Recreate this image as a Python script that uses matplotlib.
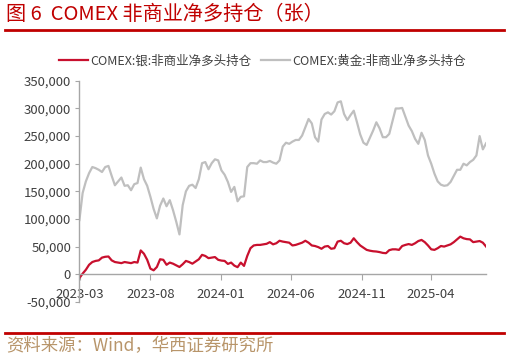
import matplotlib
matplotlib.use('Agg')
import matplotlib.pyplot as plt
import matplotlib.dates as mdates
import matplotlib.ticker as mticker
import numpy as np
import pandas as pd

plt.rcParams['font.family'] = ['Noto Sans CJK SC', 'DejaVu Sans']

# weekly COT data, 2023-02-28 .. 2025-07-29
dates = pd.date_range('2023-02-28', periods=127, freq='7D')

silver = [-7, 1, 8, 17, 22, 24, 25, 30, 31.5, 32,
          25, 22, 21, 20, 22, 21, 20, 22, 21, 43,
          37, 26, 10, 7, 13, 27, 26, 17, 21, 19,
          16, 13, 18, 24, 22, 19, 23, 27, 35, 33,
          29, 30, 31, 26, 24.6, 24, 18.6, 21, 15.5, 12.7,
          21, 15, 33, 47, 52, 53, 53, 54, 55, 58,
          54, 56, 60.5, 59, 58, 57, 52, 53, 55, 57,
          60.5, 57, 52, 51, 49, 46, 50, 51, 46, 47,
          59, 60.5, 56, 54.5, 57, 65, 58, 52, 48, 44,
          42.5, 41.5, 41, 40, 38.5, 38, 43.5, 45, 45, 44,
          51, 53, 54.5, 53, 56, 60, 62, 58, 52, 45,
          44, 47, 51, 50, 52, 54, 58, 63, 68, 65,
          63.5, 63, 58, 59, 60, 57, 50]

gold = [98, 147, 168, 183, 194, 192, 189, 185, 194, 196,
        178, 161, 168, 175, 160, 161, 152, 163, 165, 193,
        172, 160, 140, 118, 101, 124, 137, 123, 134, 116,
        95, 72, 125, 150, 160, 162, 156, 172, 201, 203,
        190, 201, 208, 206, 188, 180, 167, 149, 158, 132,
        140, 141, 194, 201, 201, 200, 206, 203, 203, 205,
        202, 200, 206, 231, 238, 236, 240, 243, 243, 251,
        266, 281, 273, 248, 240, 280, 290, 293, 289, 295,
        311, 313, 290, 279, 288, 296, 275, 253, 238, 234,
        247, 260, 275, 264, 248, 248, 254, 277, 300, 300,
        301, 285, 269, 259, 245, 236, 256, 243, 215, 200,
        182, 168, 162, 160, 161, 167, 178, 189, 189, 200,
        197, 203, 207, 215, 250, 226, 237]

silver = np.array(silver) * 1000
gold = np.array(gold) * 1000

tick_dates = pd.to_datetime(['2023-03-01', '2023-08-01', '2024-01-01',
                             '2024-06-01', '2024-11-01', '2025-04-01'])

fig = plt.figure(figsize=(5.09, 3.61), dpi=100)
ax = fig.add_axes([0.156, 0.164, 0.799, 0.612])

ax.plot(dates, silver, color='#C8102E', lw=1.6, label='COMEX:银:非商业净多头持仓')
ax.plot(dates, gold, color='#BFBFBF', lw=1.6, label='COMEX:黄金:非商业净多头持仓')

ax.set_xlim(dates[0], dates[-1])
ax.set_ylim(-50000, 350000)
ax.set_yticks(np.arange(-50000, 350001, 50000))
ax.yaxis.set_major_formatter(mticker.FuncFormatter(lambda v, p: f'{v:,.0f}'))
ax.set_xticks(tick_dates)
ax.xaxis.set_major_formatter(mdates.DateFormatter('%Y-%m'))

for s in ['top', 'right']:
    ax.spines[s].set_visible(False)
ax.spines['bottom'].set_position(('data', 0))
for s in ['left', 'bottom']:
    ax.spines[s].set_color('#A6A6A6')
    ax.spines[s].set_linewidth(1.0)
ax.tick_params(axis='both', colors='#A6A6A6', labelcolor='#404040', labelsize=9.5)
ax.tick_params(axis='y', length=3, pad=3)
ax.tick_params(axis='x', length=4, pad=6)

ax.legend(loc='lower left', bbox_to_anchor=(-0.05, 1.06), ncol=2, frameon=False,
          fontsize=9, handlelength=2.3, columnspacing=0.8, labelcolor='#404040',
          borderaxespad=0, borderpad=0, handletextpad=0.2)

# title, rules and source
fig.text(0.012, 0.96, '图 6  COMEX 非商业净多持仓（张）', color='#C00000',
         fontsize=14.5, va='center', ha='left')
fig.add_artist(plt.Line2D([0.01, 0.99], [0.918, 0.918], color='#C00000', lw=2))
fig.add_artist(plt.Line2D([0.01, 0.99], [0.077, 0.077], color='#C00000', lw=2))
fig.text(0.012, 0.04, '资料来源：Wind，华西证券研究所', color='#B8956A',
         fontsize=12.5, va='center', ha='left')

fig.savefig('out.png', dpi=100)
